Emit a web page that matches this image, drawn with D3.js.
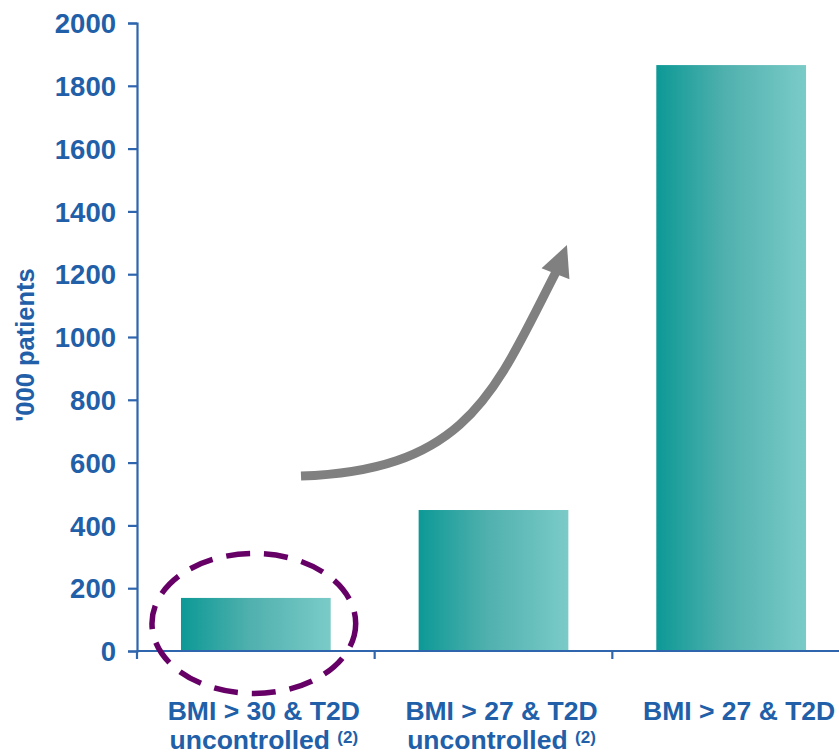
<!DOCTYPE html>
<html>
<head>
<meta charset="utf-8">
<script src="https://cdn.jsdelivr.net/npm/d3@7"></script>
<style>
  html, body { margin: 0; padding: 0; background: #fff; }
  svg { display: block; }
  text { font-family: "Liberation Sans", Arial, sans-serif; font-weight: bold; fill: #2160a8; }
</style>
</head>
<body>
<svg id="chart" width="839" height="754"></svg>
<script>
// ---- data ----
const categories = ["cat1", "cat2", "cat3"];
const labelLine1 = ["BMI > 30 & T2D", "BMI > 27 & T2D", "BMI > 27 & T2D"];
const labelLine2 = ["uncontrolled", "uncontrolled", ""];
const labelSup = ["(2)", "(2)", ""];
const values = [169, 449, 1866];
const yTicks = [0, 200, 400, 600, 800, 1000, 1200, 1400, 1600, 1800, 2000];
const yLabel = "'000 patients";
// arrow annotation in (continuous category position, value) space
const arrowStart = [0.69, 557];
const arrowC1 = [1.40, 576];
const arrowC2 = [1.506, 831];
const arrowEnd = [1.767, 1213];
const arrowTip = [1.809, 1293];

// ---- layout ----
const svg = d3.select("#chart");
const mLeft = 137, mRight = 850, mTop = 23, mBottom = 651;
const axisColor = "#2f65ac";

const x = d3.scaleBand().domain(categories).range([mLeft, mRight])
  .paddingInner(0.37).paddingOuter(0.185);
const xc = d3.scaleLinear().domain([0, 3]).range([mLeft, mRight]);
const y = d3.scaleLinear().domain([0, 2000]).range([mBottom, mTop]);

// gradient
const defs = svg.append("defs");
const grad = defs.append("linearGradient").attr("id", "barGrad")
  .attr("x1", "0%").attr("x2", "100%").attr("y1", "0%").attr("y2", "0%");
grad.append("stop").attr("offset", "0%").attr("stop-color", "#0c9996");
grad.append("stop").attr("offset", "45%").attr("stop-color", "#4fb0ad");
grad.append("stop").attr("offset", "100%").attr("stop-color", "#7acbc8");

// bars
svg.append("g").selectAll("rect").data(values).join("rect")
  .attr("x", (d, i) => x(categories[i]))
  .attr("width", x.bandwidth())
  .attr("y", d => y(d))
  .attr("height", d => y(0) - y(d))
  .attr("fill", "url(#barGrad)");

// y axis
const yAxis = svg.append("g").attr("transform", `translate(${mLeft},0)`)
  .call(d3.axisLeft(y).tickValues(yTicks).tickSize(9).tickPadding(12).tickFormat(d3.format("d")));
yAxis.select(".domain").attr("stroke", axisColor).attr("stroke-width", 2.2);
yAxis.selectAll(".tick line").attr("stroke", axisColor).attr("stroke-width", 2.2);
yAxis.selectAll(".tick text").attr("font-size", 27.5).attr("fill", "#2160a8")
  .attr("font-family", "Liberation Sans, Arial, sans-serif").attr("font-weight", "bold")
  .attr("dy", "0.35em");

// x axis line and boundary ticks
const xAxisG = svg.append("g");
xAxisG.append("line").attr("x1", mLeft).attr("x2", mRight).attr("y1", y(0)).attr("y2", y(0))
  .attr("stroke", axisColor).attr("stroke-width", 2.2);
const boundaries = categories.map(c => x(c) - x.step() * x.paddingOuter());
boundaries.push(mRight);
xAxisG.selectAll("line.tk").data(boundaries).join("line").attr("class", "tk")
  .attr("x1", d => d).attr("x2", d => d).attr("y1", y(0)).attr("y2", y(0) + 8)
  .attr("stroke", axisColor).attr("stroke-width", 2.2);

// category labels
const lab = svg.append("g");
categories.forEach((c, i) => {
  const cx = x(c) + x.bandwidth() / 2 + 8;
  lab.append("text").attr("x", cx).attr("y", 720).attr("text-anchor", "middle")
    .attr("font-size", 26.5).text(labelLine1[i]);
  if (labelLine2[i]) {
    const t = lab.append("text").attr("x", cx).attr("y", 749).attr("text-anchor", "middle")
      .attr("font-size", 26.5);
    t.append("tspan").text(labelLine2[i] + " ");
    t.append("tspan").attr("font-size", 17).attr("dy", -6).text(labelSup[i]);
  }
});

// y label
svg.append("text")
  .attr("transform", `translate(34,${(mTop + mBottom) / 2 + 8}) rotate(-90)`)
  .attr("text-anchor", "middle").attr("font-size", 25.5).text(yLabel);

// dashed ellipse around first bar
svg.append("ellipse")
  .attr("cx", x(categories[0]) + x.bandwidth() / 2 - 2)
  .attr("cy", y(values[0] / 2) - 1)
  .attr("rx", x.bandwidth() / 2 + 27)
  .attr("ry", 70)
  .attr("fill", "none").attr("stroke", "#660066").attr("stroke-width", 5.5)
  .attr("stroke-dasharray", "24,14");

// arrow
const P = p => [xc(p[0]), y(p[1])];
const s = P(arrowStart), c1 = P(arrowC1), c2 = P(arrowC2), e = P(arrowEnd), tip = P(arrowTip);
svg.append("path")
  .attr("d", `M${s}C${c1} ${c2} ${e}`)
  .attr("fill", "none").attr("stroke", "#808080").attr("stroke-width", 9);
const dx = tip[0] - e[0], dy = tip[1] - e[1], len = Math.hypot(dx, dy);
const ux = dx / len, uy = dy / len;
const baseC = [tip[0] - ux * 31, tip[1] - uy * 31];
const hw = 15;
svg.append("polygon")
  .attr("points", [tip, [baseC[0] - uy * hw, baseC[1] + ux * hw], [baseC[0] + uy * hw, baseC[1] - ux * hw]].map(p => p.join(",")).join(" "))
  .attr("fill", "#808080");
</script>
</body>
</html>
